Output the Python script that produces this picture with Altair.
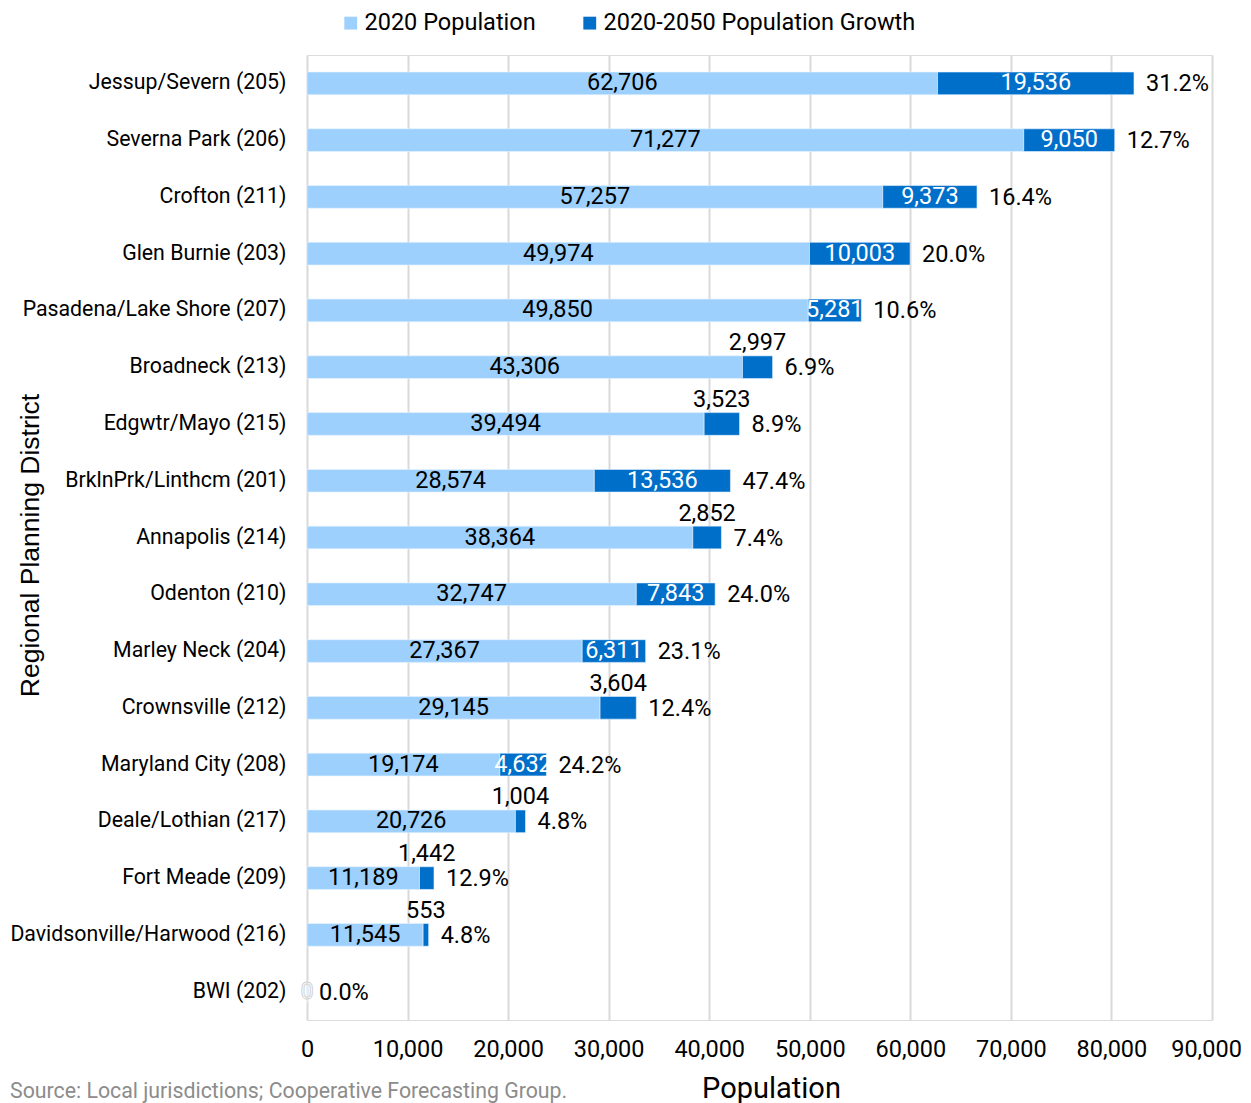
import altair as alt
import pandas as pd

districts = ["Jessup/Severn (205)", "Severna Park (206)", "Crofton (211)", "Glen Burnie (203)",
             "Pasadena/Lake Shore (207)", "Broadneck (213)", "Edgwtr/Mayo (215)", "BrklnPrk/Linthcm (201)",
             "Annapolis (214)", "Odenton (210)", "Marley Neck (204)", "Crownsville (212)",
             "Maryland City (208)", "Deale/Lothian (217)", "Fort Meade (209)",
             "Davidsonville/Harwood (216)", "BWI (202)"]
pop2020 = [62706, 71277, 57257, 49974, 49850, 43306, 39494, 28574, 38364, 32747, 27367, 29145,
           19174, 20726, 11189, 11545, 0]
growth = [19536, 9050, 9373, 10003, 5281, 2997, 3523, 13536, 2852, 7843, 6311, 3604,
          4632, 1004, 1442, 553, 0]
pct = ["31.2%", "12.7%", "16.4%", "20.0%", "10.6%", "6.9%", "8.9%", "47.4%", "7.4%", "24.0%",
       "23.1%", "12.4%", "24.2%", "4.8%", "12.9%", "4.8%", "0.0%"]
series = ["2020 Population", "2020-2050 Population Growth"]
colors = ["#9dd0fd", "#006fca"]
x_ticks = [0, 10000, 20000, 30000, 40000, 50000, 60000, 70000, 80000, 90000]
source_note = "Source: Local jurisdictions; Cooperative Forecasting Group."

rows = []
for d, b, g, p in zip(districts, pop2020, growth, pct):
    rows.append({"district": d, "series": series[0], "start": 0, "end": b})
    rows.append({"district": d, "series": series[1], "start": b, "end": b + g})
bars_df = pd.DataFrame(rows)

lab = pd.DataFrame({"district": districts, "base": pop2020, "growth": growth, "pct": pct})
lab["total"] = lab["base"] + lab["growth"]
lab["base_mid"] = lab["base"] / 2
lab["growth_mid"] = lab["base"] + lab["growth"] / 2
lab["base_txt"] = [f"{v:,}" for v in lab["base"]]
lab["growth_txt"] = [f"{v:,}" for v in lab["growth"]]

base_lab = lab[lab["base"] > 0]
grow_in = lab[lab["growth"] >= 4000]
grow_above = lab[(lab["growth"] > 0) & (lab["growth"] < 4000)]
grow_zero = lab[lab["growth"] == 0]

FONT = "Roboto"
TXT = 23.5
yenc = alt.Y("district:N", sort=districts,
             scale=alt.Scale(paddingInner=0.6, paddingOuter=0.3),
             axis=alt.Axis(title="Regional Planning District", titleFont="Liberation Sans",
                           titleFontSize=26.5, titleFontWeight="normal", titleColor="black",
                           titleX=-277, titleY=490, titleBaseline="middle", titleAngle=-90,
                           labelFont=FONT, labelFontSize=21.3, labelColor="black",
                           labelPadding=21, labelLimit=400, ticks=False, domain=False, grid=False))
xscale = alt.Scale(domain=[0, 90000], nice=False)

bars = alt.Chart(bars_df).mark_bar(stroke="#e8f3ff", strokeWidth=0.6).encode(
    y=yenc,
    x=alt.X("start:Q", scale=xscale,
            axis=alt.Axis(title="Population", values=x_ticks, format=",.0f", labelFont=FONT,
                          labelFontSize=TXT, labelColor="black", labelPadding=17,
                          labelOverlap=False, labelFlush=False,
                          labelOffset={"condition": {"test": "datum.value >= 90000", "value": -6},
                                       "value": 0},
                          titleFont=FONT, titleFontSize=29, titleFontWeight="normal",
                          titleColor="black", titleX=464, titlePadding=14,
                          grid=True, gridColor="#d9d9d9", gridWidth=2,
                          ticks=False, domain=False)),
    x2="end:Q",
    color=alt.Color("series:N", scale=alt.Scale(domain=series, range=colors),
                    legend=alt.Legend(title=None, orient="none", legendX=32, legendY=-44,
                                      direction="horizontal", symbolType="square",
                                      symbolSize=165, symbolStrokeWidth=0,
                                      labelFont=FONT, labelFontSize=TXT, labelColor="black",
                                      labelLimit=500, labelOffset=2, columnPadding=42)),
)

base_text = alt.Chart(base_lab).mark_text(font=FONT, fontSize=TXT, color="black", baseline="middle").encode(
    y=alt.Y("district:N", sort=districts), x=alt.X("base_mid:Q", scale=xscale), text="base_txt:N")

grow_in_text = alt.Chart(grow_in).mark_text(font=FONT, fontSize=TXT, color="white", baseline="middle").encode(
    y=alt.Y("district:N", sort=districts), x=alt.X("growth_mid:Q", scale=xscale), text="growth_txt:N")

grow_above_text = alt.Chart(grow_above).mark_text(font=FONT, fontSize=TXT, color="black",
                                                  baseline="middle", dy=-24).encode(
    y=alt.Y("district:N", sort=districts), x=alt.X("growth_mid:Q", scale=xscale), text="growth_txt:N")

grow_zero_text = alt.Chart(grow_zero).mark_text(font=FONT, fontSize=TXT, color="white", stroke="#c8c8c8",
                                                strokeWidth=0.8, baseline="middle").encode(
    y=alt.Y("district:N", sort=districts), x=alt.X("growth_mid:Q", scale=xscale), text="growth_txt:N")

pct_text = alt.Chart(lab).mark_text(font=FONT, fontSize=TXT, color="black", align="left",
                                    baseline="middle", dx=12, dy=1).encode(
    y=alt.Y("district:N", sort=districts), x=alt.X("total:Q", scale=xscale), text="pct:N")

src = alt.Chart(pd.DataFrame({"t": [source_note]})).mark_text(
    font=FONT, fontSize=21.3, color="#8c8c8c", align="left", baseline="middle").encode(
    x=alt.value(-297), y=alt.value(1037), text="t:N")

chart = alt.layer(bars, base_text, grow_in_text, grow_above_text, grow_zero_text, pct_text, src).properties(
    width=905, height=965,
    autosize=alt.AutoSizeParams(type="none"),
    padding={"left": 299, "top": 47, "right": 31, "bottom": 88},
).configure_view(stroke=None).configure(font=FONT)

chart.save("out.html", embed_options={"renderer": "svg", "actions": False})
